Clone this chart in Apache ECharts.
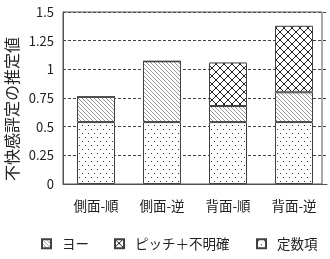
<!DOCTYPE html>
<html>
<head>
<meta charset="utf-8">
<script src="https://cdn.jsdelivr.net/npm/echarts@6/dist/echarts.min.js"></script>
<style>
  html, body { margin: 0; padding: 0; background: #fff; }
  #chart { width: 330px; height: 259px; }
</style>
</head>
<body>
<div id="chart"></div>
<script>
var categories = ['側面-順', '側面-逆', '背面-順', '背面-逆'];
var constantVals = [0.54, 0.54, 0.54, 0.54];
var yawVals = [0.22, 0.53, 0.14, 0.26];
var pitchVals = [0, 0, 0.38, 0.58];
var seriesNames = ['ヨー', 'ピッチ＋不明確', '定数項'];
var yTicks = { min: 0, max: 1.5, step: 0.25 };

var FONT = '"Noto Sans CJK JP", "Liberation Sans", sans-serif';

// hatch patterns drawn on small canvases
function makePattern(w, h, draw) {
    var c = document.createElement('canvas');
    c.width = w;
    c.height = h;
    var ctx = c.getContext('2d');
    ctx.fillStyle = '#fff';
    ctx.fillRect(0, 0, w, h);
    draw(ctx);
    return { image: c, repeat: 'repeat' };
}

var yawPattern = makePattern(4, 4, function (ctx) {
    ctx.strokeStyle = '#999';
    ctx.lineWidth = 1;
    ctx.beginPath();
    ctx.moveTo(-1, -1); ctx.lineTo(5, 5);
    ctx.moveTo(-1, 3); ctx.lineTo(1, 5);
    ctx.moveTo(3, -1); ctx.lineTo(5, 1);
    ctx.stroke();
});

var pitchPattern = makePattern(8, 8, function (ctx) {
    ctx.strokeStyle = '#222';
    ctx.lineWidth = 1;
    ctx.beginPath();
    ctx.moveTo(0, 0); ctx.lineTo(8, 8);
    ctx.moveTo(8, 0); ctx.lineTo(0, 8);
    ctx.stroke();
});

var constPattern = makePattern(6, 8, function (ctx) {
    ctx.fillStyle = '#333';
    ctx.fillRect(1, 1, 1, 1);
    ctx.fillRect(4, 5, 1, 1);
});

function barSeries(name, data, pattern) {
    return {
        name: name,
        type: 'bar',
        stack: 'total',
        barWidth: 38,
        data: data,
        itemStyle: {
            color: pattern,
            borderColor: '#404040',
            borderWidth: 1
        }
    };
}

// one legend per item so each sits where the reference puts it
var legendLeft = [41, 114, 256];
var legends = seriesNames.map(function (name, i) {
    return {
        data: [name],
        top: 237,
        left: legendLeft[i],
        padding: 0,
        itemWidth: 9,
        itemHeight: 9,
        icon: 'rect',
        textStyle: { fontFamily: FONT, fontSize: 13.5, color: '#222', padding: [0, 0, 0, 6] }
    };
});

var chart = echarts.init(document.getElementById('chart'));
chart.setOption({
    animation: false,
    textStyle: { fontFamily: FONT },
    grid: { left: 63, right: 3, top: 12, bottom: 75 },
    legend: legends,
    xAxis: {
        type: 'category',
        data: categories,
        axisLine: { lineStyle: { color: '#555', width: 1 } },
        axisTick: { inside: true, length: 8, lineStyle: { color: '#555' } },
        axisLabel: { fontFamily: FONT, fontSize: 13.5, color: '#222', margin: 15 }
    },
    yAxis: {
        type: 'value',
        min: yTicks.min,
        max: yTicks.max,
        interval: yTicks.step,
        axisLine: { show: true, lineStyle: { color: '#555', width: 1 } },
        axisTick: { show: false },
        axisLabel: { fontFamily: FONT, fontSize: 13, color: '#222', margin: 9 },
        splitLine: { lineStyle: { color: '#444', type: [3, 2], width: 1 } }
    },
    graphic: [
        {
            type: 'rect',
            shape: { x: 63, y: 12, width: 259, height: 172 },
            style: { fill: 'none', stroke: '#555', lineWidth: 1 },
            z: 100
        },
        {
            type: 'text',
            x: 12,
            y: 109,
            rotation: Math.PI / 2,
            style: {
                text: '不快感評定の推定値',
                font: '16px "Noto Sans CJK JP"',
                fill: '#222',
                align: 'center',
                verticalAlign: 'middle'
            }
        }
    ],
    series: [
        barSeries('定数項', constantVals, constPattern),
        barSeries('ヨー', yawVals, yawPattern),
        barSeries('ピッチ＋不明確', pitchVals, pitchPattern)
    ]
});
</script>
</body>
</html>
